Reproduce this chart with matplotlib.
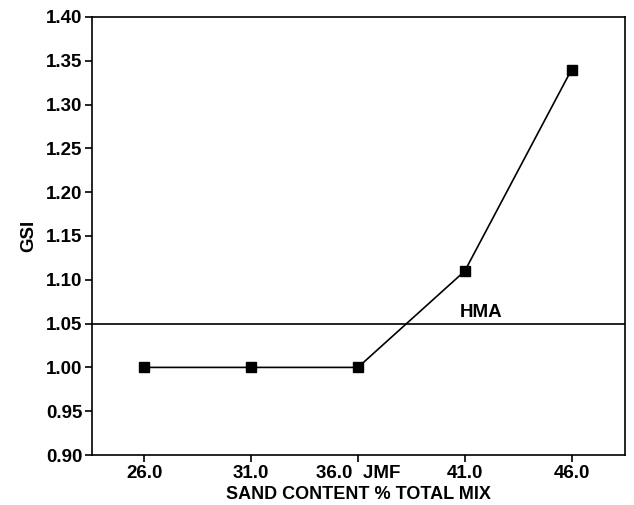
import matplotlib
matplotlib.use("Agg")
import matplotlib.pyplot as plt

# Sand content categories and measured GSI values
categories = ["26.0", "31.0", "36.0  JMF", "41.0", "46.0"]
gsi = [1.00, 1.00, 1.00, 1.11, 1.34]
hma_level = 1.05
y_ticks = [0.90, 0.95, 1.00, 1.05, 1.10, 1.15, 1.20, 1.25, 1.30, 1.35, 1.40]

plt.rcParams["font.family"] = ["Liberation Sans", "DejaVu Sans"]
plt.rcParams["font.weight"] = "bold"

FS = 13.5

fig = plt.figure(figsize=(6.34, 5.05), dpi=100)
ax = fig.add_axes([92 / 634, 1 - 455 / 505, (625 - 92) / 634, (455 - 17) / 505])

x = list(range(len(categories)))
ax.plot(x, gsi, color="black", linewidth=1.2, marker="s", markersize=7,
        markerfacecolor="black", markeredgecolor="black")
ax.axhline(hma_level, color="black", linewidth=1.2)
ax.text(3.15, hma_level + 0.003, "HMA", ha="center", va="bottom",
        fontsize=FS, fontweight="bold")

ax.set_xlim(-0.49, 4.5)
ax.set_ylim(0.90, 1.40)
ax.set_xticks(x)
ax.set_xticklabels(categories)
ax.set_yticks(y_ticks)
ax.set_yticklabels([f"{v:.2f}" for v in y_ticks])

ax.tick_params(direction="out", length=5, width=1.2, labelsize=FS, pad=2)
for lbl in ax.get_xticklabels() + ax.get_yticklabels():
    lbl.set_fontweight("bold")
for s in ax.spines.values():
    s.set_linewidth(1.2)

ax.set_xlabel("SAND CONTENT % TOTAL MIX", fontsize=13, fontweight="bold", labelpad=3)
ax.set_ylabel("GSI", fontsize=FS, fontweight="bold", labelpad=6)

fig.savefig("out.png", dpi=100)
